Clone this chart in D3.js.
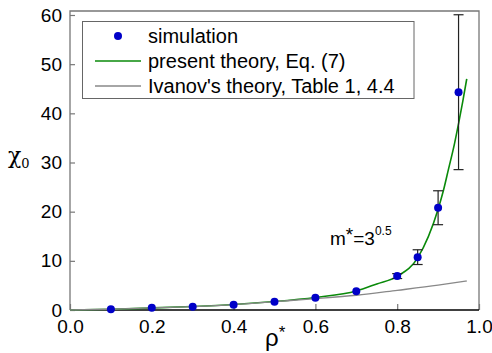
<!DOCTYPE html>
<html lang="en">
<head>
<meta charset="UTF-8">
<title>chi0 vs rho*</title>
<script src="https://d3js.org/d3.v7.min.js"></script>
<style>
  body { margin: 0; background: #fff; }
  text { font-family: "Liberation Sans", Arial, sans-serif; fill: #000; }
</style>
</head>
<body>
<script>
// simulation points with error bars
const simRho = [0.1, 0.2, 0.3, 0.4, 0.5, 0.6, 0.7, 0.8, 0.85, 0.9, 0.95];
const simChi = [0.15, 0.47, 0.67, 1.08, 1.7, 2.5, 3.8, 6.9, 10.75, 20.8, 44.3];
const simErr = [0, 0, 0, 0, 0, 0, 0, 0.5, 1.5, 3.45, 15.75];

// present theory, Eq. (7)
const theoryRho = [0, 0.1, 0.2, 0.3, 0.4, 0.5, 0.6, 0.7, 0.75, 0.8, 0.85, 0.9, 0.913, 0.925, 0.94, 0.95, 0.96, 0.97];
const theoryChi = [0, 0.15, 0.42, 0.72, 1.12, 1.72, 2.55, 3.85, 5.3, 6.85, 10.6, 20.5, 24.3, 28.5, 33.8, 37.9, 42.3, 47];

// Ivanov's theory
const ivanovRho = [0, 0.1, 0.2, 0.3, 0.4, 0.5, 0.6, 0.7, 0.8, 0.9, 0.97];
const ivanovChi = [0, 0.15, 0.42, 0.7, 1.1, 1.7, 2.3, 3.0, 4.0, 5.05, 5.9];

const xTicks = [0, 0.2, 0.4, 0.6, 0.8, 1.0];
const yTicks = [0, 10, 20, 30, 40, 50, 60];
const legendLabels = ["simulation", "present theory, Eq. (7)", "Ivanov's theory, Table 1, 4.4"];

const width = 492, height = 353;
const plotL = 70, plotR = 479, plotT = 11, plotB = 310;

const svg = d3.select("body").append("svg")
    .attr("width", width)
    .attr("height", height);

const x = d3.scaleLinear().domain([0, 1]).range([plotL, plotR]);
const y = d3.scaleLinear().domain([0, 60]).range([plotB, 15]);

// axes (ticks point inward)
const yAxis = svg.append("g")
    .attr("transform", `translate(${plotL},0)`)
    .call(d3.axisLeft(y).tickValues(yTicks).tickSize(-5).tickPadding(8).tickFormat(d3.format("d")));
const xAxis = svg.append("g")
    .attr("transform", `translate(0,${plotB})`)
    .call(d3.axisBottom(x).tickValues(xTicks).tickSize(-6).tickPadding(10).tickFormat(d3.format(".1f")));

[xAxis, yAxis].forEach(g => {
  g.select(".domain").remove();
  g.selectAll(".tick line").attr("stroke", "#777").attr("stroke-width", 1.2);
  g.selectAll(".tick text").style("font-size", "19px").attr("fill", "#000");
});

// frame
svg.append("path")
    .attr("d", `M${plotL},${plotB}V${plotT}H${plotR}V${plotB}`)
    .attr("fill", "none").attr("stroke", "#777").attr("stroke-width", 1.3);
svg.append("line")
    .attr("x1", plotL).attr("x2", plotR).attr("y1", plotB).attr("y2", plotB)
    .attr("stroke", "#000").attr("stroke-width", 1.5);

// curves
const line = d3.line().x(d => x(d[0])).y(d => y(d[1])).curve(d3.curveMonotoneX);

svg.append("path")
    .datum(d3.zip(theoryRho, theoryChi))
    .attr("d", line)
    .attr("fill", "none").attr("stroke", "#0a8a0a").attr("stroke-width", 1.6);

svg.append("path")
    .datum(d3.zip(ivanovRho, ivanovChi))
    .attr("d", line)
    .attr("fill", "none").attr("stroke", "#888").attr("stroke-width", 1.3);

// error bars
const sim = simRho.map((r, i) => ({ r, c: simChi[i], e: simErr[i] }));
const eb = svg.append("g").selectAll("g")
    .data(sim.filter(d => d.e > 0))
    .join("g")
    .attr("stroke", "#222").attr("stroke-width", 1.2);
eb.append("line")
    .attr("x1", d => x(d.r)).attr("x2", d => x(d.r))
    .attr("y1", d => y(d.c - d.e)).attr("y2", d => y(d.c + d.e));
eb.append("line")
    .attr("x1", d => x(d.r) - 5).attr("x2", d => x(d.r) + 5)
    .attr("y1", d => y(d.c + d.e)).attr("y2", d => y(d.c + d.e));
eb.append("line")
    .attr("x1", d => x(d.r) - 5).attr("x2", d => x(d.r) + 5)
    .attr("y1", d => y(d.c - d.e)).attr("y2", d => y(d.c - d.e));

// points
svg.append("g").selectAll("circle")
    .data(sim)
    .join("circle")
    .attr("cx", d => x(d.r))
    .attr("cy", d => y(d.c))
    .attr("r", 4)
    .attr("fill", "#0000c8");

// axis labels
const yl = svg.append("text")
    .attr("x", 8).attr("y", 163)
    .style("font-family", "'DejaVu Serif', serif")
    .style("font-size", "22px");
yl.append("tspan").text("χ");
yl.append("tspan").attr("dy", 5).style("font-size", "13px").text("0");

const xl = svg.append("text")
    .attr("x", 265).attr("y", 346)
    .style("font-size", "24px");
xl.append("tspan").text("ρ");
xl.append("tspan").attr("dy", -8).style("font-size", "17px").text("*");

// annotation
const ann = svg.append("text")
    .attr("x", 330).attr("y", 245)
    .style("font-size", "19px");
ann.append("tspan").text("m");
ann.append("tspan").attr("dy", -4).text("*");
ann.append("tspan").attr("dy", 4).text("=3");
ann.append("tspan").attr("dy", -10).style("font-size", "12px").text("0.5");

// legend
const lg = svg.append("g");
lg.append("rect")
    .attr("x", 82.5).attr("y", 21.5).attr("width", 331.5).attr("height", 77)
    .attr("fill", "#fff").attr("stroke", "#666").attr("stroke-width", 1);
lg.append("circle").attr("cx", 118).attr("cy", 36).attr("r", 4).attr("fill", "#0000c8");
lg.append("line").attr("x1", 95).attr("x2", 141).attr("y1", 61).attr("y2", 61)
    .attr("stroke", "#0a8a0a").attr("stroke-width", 1.6);
lg.append("line").attr("x1", 95).attr("x2", 141).attr("y1", 86).attr("y2", 86)
    .attr("stroke", "#888").attr("stroke-width", 1.3);
lg.selectAll("text.lab")
    .data(legendLabels)
    .join("text")
    .attr("class", "lab")
    .attr("x", 148)
    .attr("y", (d, i) => 43 + i * 25)
    .style("font-size", "20px")
    .text(d => d);
</script>
</body>
</html>
